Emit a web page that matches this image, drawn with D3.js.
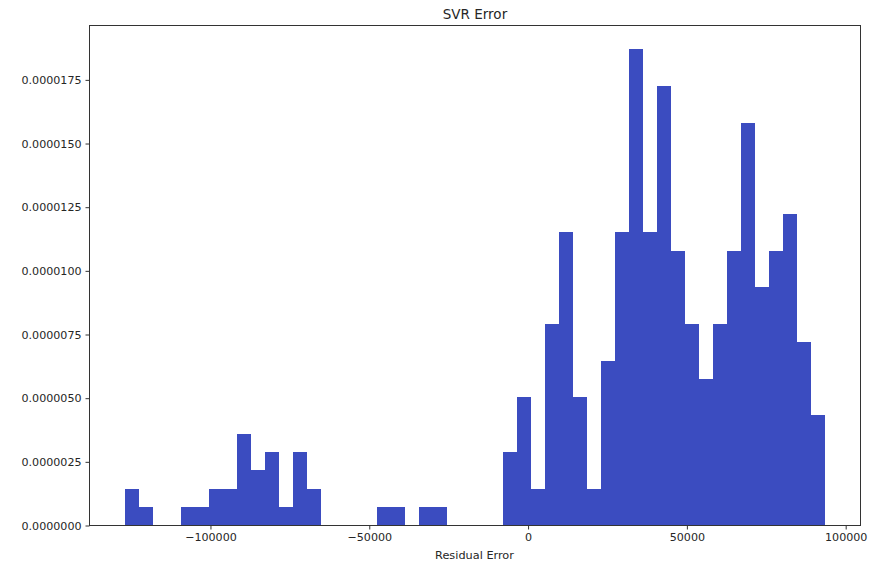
<!DOCTYPE html>
<html>
<head>
<meta charset="utf-8">
<script src="https://cdn.jsdelivr.net/npm/d3@7"></script>
<style>
  html, body { margin: 0; padding: 0; background: #fff; }
  svg { display: block; }
  text { font-family: "DejaVu Sans", sans-serif; fill: #262626; }
</style>
</head>
<body>
<div id="chart"></div>
<script>
// Histogram bin edges (Residual Error)
const binEdges = [-127050, -122636, -118223, -113809, -109396, -104982, -100568, -96155, -91741, -87328,
  -82914, -78500, -74087, -69673, -65260, -60846, -56432, -52019, -47605, -43192,
  -38778, -34364, -29951, -25537, -21124, -16710, -12296, -7883, -3469, 944,
  5358, 9772, 14185, 18599, 23012, 27426, 31840, 36253, 40667, 45080,
  49494, 53908, 58321, 62735, 67148, 71562, 75976, 80389, 84803, 89216, 93630];

// Density for each bin
const densities = [1.44e-6, 7.2e-7, 0, 0, 7.2e-7, 7.2e-7, 1.44e-6, 1.44e-6, 3.60e-6, 2.16e-6,
  2.88e-6, 7.2e-7, 2.88e-6, 1.44e-6, 0, 0, 0, 0, 7.2e-7, 7.2e-7,
  0, 7.2e-7, 7.2e-7, 0, 0, 0, 0, 2.88e-6, 5.03e-6, 1.44e-6,
  7.91e-6, 1.151e-5, 5.03e-6, 1.44e-6, 6.47e-6, 1.151e-5, 1.870e-5, 1.151e-5, 1.726e-5, 1.079e-5,
  7.91e-6, 5.75e-6, 7.91e-6, 1.079e-5, 1.582e-5, 9.35e-6, 1.079e-5, 1.223e-5, 7.19e-6, 4.32e-6];

const xTicks = [-100000, -50000, 0, 50000, 100000];
const yTicks = [0, 0.0000025, 0.000005, 0.0000075, 0.00001, 0.0000125, 0.000015, 0.0000175];
const titleText = "SVR Error";
const xLabelText = "Residual Error";

const W = 875, H = 564;
const mLeft = 89.5, mRight = 860.5, mTop = 25.5, mBottom = 525.5;

const lo = binEdges[0], hi = binEdges[binEdges.length - 1];
const pad = (hi - lo) * 0.05;
const yMax = d3.max(densities) * 1.05;

const x = d3.scaleLinear().domain([lo - pad, hi + pad]).range([mLeft, mRight]);
const y = d3.scaleLinear().domain([0, yMax]).range([mBottom, mTop]);

const svg = d3.select("#chart").append("svg").attr("width", W).attr("height", H);

const bins = densities.map((d, i) => ({ x0: binEdges[i], x1: binEdges[i + 1], v: d }));

svg.append("g").selectAll("rect")
  .data(bins.filter(b => b.v > 0))
  .join("rect")
  .attr("x", b => x(b.x0))
  .attr("width", b => x(b.x1) - x(b.x0))
  .attr("y", b => y(b.v))
  .attr("height", b => y(0) - y(b.v))
  .attr("fill", "#3b4cc0")
  .attr("shape-rendering", "crispEdges");

const fmtX = d => d < 0 ? "\u2212" + Math.abs(d) : String(d);

const xAxis = d3.axisBottom(x).tickValues(xTicks).tickFormat(fmtX).tickSizeOuter(0).tickSize(4).tickPadding(4);
const yAxis = d3.axisLeft(y).tickValues(yTicks).tickFormat(d3.format(".7f")).tickSizeOuter(0).tickSize(4).tickPadding(4);

const gx = svg.append("g").attr("transform", `translate(0,${mBottom})`).call(xAxis);
const gy = svg.append("g").attr("transform", `translate(${mLeft},0)`).call(yAxis);
[gx, gy].forEach(g => {
  g.select(".domain").remove();
  g.selectAll(".tick line").attr("stroke", "#333");
  g.selectAll(".tick text").attr("font-size", 11.1).attr("font-family", "DejaVu Sans, sans-serif").attr("fill", "#262626");
});

// spines
svg.append("rect")
  .attr("x", mLeft).attr("y", mTop)
  .attr("width", mRight - mLeft).attr("height", mBottom - mTop)
  .attr("fill", "none").attr("stroke", "#333").attr("stroke-width", 1);

svg.append("text")
  .attr("x", 475).attr("y", 19)
  .attr("text-anchor", "middle").attr("font-size", 13.5)
  .text(titleText);

svg.append("text")
  .attr("x", 474.5).attr("y", 558.5)
  .attr("text-anchor", "middle").attr("font-size", 11.3)
  .text(xLabelText);
</script>
</body>
</html>
